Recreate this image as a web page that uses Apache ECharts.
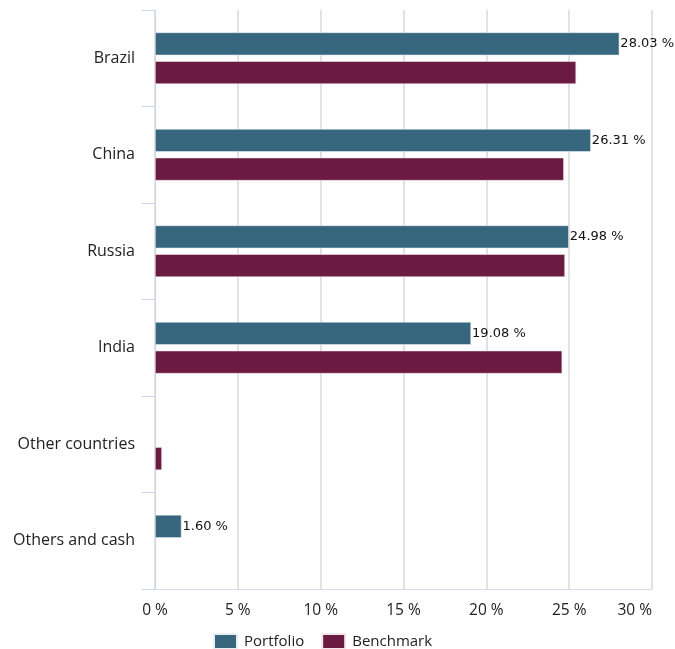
<!DOCTYPE html>
<html><head><meta charset="utf-8">
<script src="https://cdn.jsdelivr.net/npm/echarts@6/dist/echarts.min.js"></script>
<style>html,body{margin:0;padding:0;background:#fff}#c{width:675px;height:649px}</style>
</head><body><div id="c"></div>
<script>
const categories = ["Brazil", "China", "Russia", "India", "Other countries", "Others and cash"];
const portfolio = [28.03, 26.31, 24.98, 19.08, null, 1.60];
const benchmark = [25.42, 24.68, 24.75, 24.58, 0.42, null];
const xTicks = [0, 5, 10, 15, 20, 25, 30];

const chart = echarts.init(document.getElementById('c'), null, {renderer: 'canvas'});
chart.setOption({
  animation: false,
  textStyle: {fontFamily: 'Open Sans'},
  grid: {left: 155, right: 23, top: 10, bottom: 60, containLabel: false},
  legend: {
    top: 633, left: 213, padding: 0, itemWidth: 23, itemHeight: 15, itemGap: 17,
    icon: 'rect',
    textStyle: {fontSize: 15, color: '#222', fontFamily: 'Open Sans', padding: [0, 0, 0, 2]},
    data: ['Portfolio', 'Benchmark']
  },
  xAxis: {
    type: 'value', min: xTicks[0], max: xTicks[xTicks.length - 1], interval: 5,
    axisLine: {show: true, lineStyle: {color: '#d5dbe6', width: 1}},
    axisTick: {show: false},
    splitLine: {show: true, lineStyle: {color: '#d9d9d9', width: 1.5}},
    axisLabel: {formatter: v => v + ' %', fontSize: 15.5, color: '#222', margin: 14, fontFamily: 'Open Sans', alignMaxLabel: 'right'}
  },
  yAxis: {
    type: 'category', inverse: true, data: categories,
    axisLine: {show: true, lineStyle: {color: '#ccd6eb', width: 1}},
    axisTick: {show: true, length: 13, lineStyle: {color: '#ccd6eb'}},
    axisLabel: {fontSize: 16, color: '#222', margin: 20, fontFamily: 'Open Sans'}
  },
  series: [
    {
      name: 'Portfolio', type: 'bar', data: portfolio, barWidth: 23, barGap: '25%',
      itemStyle: {color: '#37677e', borderColor: '#e8eef2', borderWidth: 0.6},
      label: {show: true, position: 'right', distance: 1, formatter: p => p.value.toFixed(2) + ' %',
        fontSize: 13, color: '#111', fontFamily: 'DejaVu Sans'}
    },
    {
      name: 'Benchmark', type: 'bar', data: benchmark, barWidth: 23, barGap: '25%',
      itemStyle: {color: '#6b1a41', borderColor: '#f0e6eb', borderWidth: 0.6}
    }
  ]
});
</script></body></html>
